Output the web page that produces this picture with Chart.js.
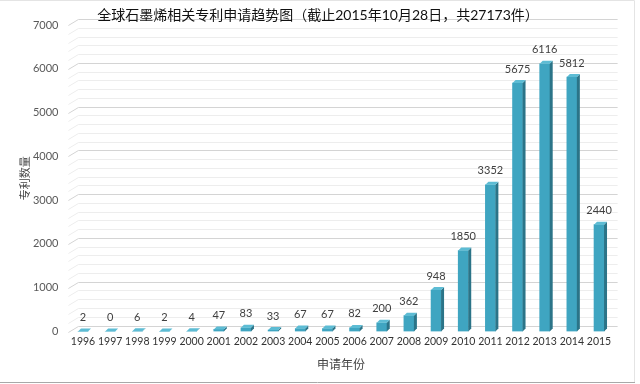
<!DOCTYPE html>
<html><head><meta charset="utf-8">
<script src="https://cdn.jsdelivr.net/npm/chart.js@4/dist/chart.umd.min.js"></script>
<style>html,body{margin:0;padding:0;background:#fff}canvas{display:block}</style>
</head><body>
<canvas id="c" width="640" height="384"></canvas>
<script>
const titleText = '全球石墨烯相关专利申请趋势图（截止2015年10月28日，共27173件）';
const xAxisTitle = '申请年份';
const yAxisTitle = '专利数量';
const years = ['1996','1997','1998','1999','2000','2001','2002','2003','2004','2005','2006','2007','2008','2009','2010','2011','2012','2013','2014','2015'];
const applications = [2,0,6,2,4,47,83,33,67,67,82,200,362,948,1850,3352,5675,6116,5812,2440];
const yMax = 7000;
const yMajorStep = 1000;
const yMinorStep = 200;

const FONT = 'Lato, "Noto Sans CJK SC", sans-serif';
const DEPTH = 3;

const gridPlugin = {
  id: 'grid3d',
  beforeDatasetsDraw(chart) {
    const {ctx, chartArea, scales: {y}} = chart;
    ctx.save();
    ctx.lineWidth = 1;
    for (let v = 0; v <= yMax; v += yMinorStep) {
      const yy = Math.round(y.getPixelForValue(v)) + 0.5;
      ctx.strokeStyle = (v % yMajorStep === 0) ? '#d4d4d4' : '#ededed';
      ctx.beginPath();
      ctx.moveTo(chartArea.left - 1, yy);
      ctx.lineTo(chartArea.left + 9, yy - 6);
      ctx.lineTo(chartArea.right + 5, yy - 6);
      ctx.stroke();
    }
    ctx.restore();
  }
};

const barPlugin = {
  id: 'bar3d',
  afterDatasetsDraw(chart) {
    const {ctx} = chart;
    const meta = chart.getDatasetMeta(0);
    ctx.save();
    meta.data.forEach((el, i) => {
      const {x, y, base, width} = el.getProps(['x','y','base','width'], true);
      const l = x - width / 2, r = x + width / 2;
      ctx.fillStyle = '#2b7488';
      ctx.beginPath();
      ctx.moveTo(r, y); ctx.lineTo(r + DEPTH, y - DEPTH);
      ctx.lineTo(r + DEPTH, base - DEPTH); ctx.lineTo(r, base);
      ctx.closePath(); ctx.fill();
      ctx.fillStyle = '#5dbcd4';
      ctx.beginPath();
      ctx.moveTo(l, y); ctx.lineTo(l + DEPTH, y - DEPTH);
      ctx.lineTo(r + DEPTH, y - DEPTH); ctx.lineTo(r, y);
      ctx.closePath(); ctx.fill();
      ctx.fillStyle = '#404040';
      ctx.font = '11px ' + FONT;
      ctx.textAlign = 'center';
      ctx.textBaseline = 'middle';
      ctx.fillText(String(applications[i]), x, y - 14);
    });
    ctx.restore();
  }
};

const framePlugin = {
  id: 'frame',
  afterDraw(chart) {
    const {ctx} = chart;
    ctx.save();
    ctx.fillStyle = '#111111';
    ctx.font = '14px ' + FONT;
    ctx.textAlign = 'center';
    ctx.textBaseline = 'middle';
    ctx.fillText(titleText, 318, 15);
    ctx.lineWidth = 1;
    ctx.strokeStyle = '#e4e4e4';
    ctx.beginPath();
    ctx.moveTo(0, 0.5); ctx.lineTo(634.5, 0.5); ctx.lineTo(634.5, 382);
    ctx.stroke();
    ctx.strokeStyle = '#a8a8a8';
    ctx.beginPath();
    ctx.moveTo(0, 382.5); ctx.lineTo(635, 382.5);
    ctx.stroke();
    ctx.restore();
  }
};

new Chart(document.getElementById('c'), {
  type: 'bar',
  data: {
    labels: years,
    datasets: [{
      data: applications,
      backgroundColor: '#3fa5c1',
      borderWidth: 0,
      barThickness: 10
    }]
  },
  options: {
    responsive: false,
    animation: false,
    events: [],
    layout: { padding: { top: 25, right: 27.4, bottom: 0, left: 0 } },
    plugins: { legend: { display: false }, tooltip: { enabled: false }, title: { display: false } },
    scales: {
      x: {
        grid: { display: false, drawTicks: false },
        border: { display: false },
        ticks: { color: '#333333', font: { family: FONT, size: 10.5 }, padding: 4, maxRotation: 0, autoSkip: false },
        title: { display: true, text: xAxisTitle, color: '#444444', font: { family: FONT, size: 12 }, padding: { top: 0, bottom: 11.8 } },
        afterFit(scale) { scale.height = 52.5; }
      },
      y: {
        min: 0, max: yMax,
        grid: { display: false, drawTicks: false },
        border: { display: false },
        ticks: { stepSize: yMajorStep, color: '#595959', font: { family: FONT, size: 11 }, padding: 11, callback: (v) => String(v) },
        title: { display: true, text: yAxisTitle, color: '#444444', font: { family: FONT, size: 11 }, padding: { top: 18.4, bottom: 0 } },
        afterFit(scale) { scale.width = 69.4; }
      }
    }
  },
  plugins: [gridPlugin, barPlugin, framePlugin]
});
</script>
</body></html>
